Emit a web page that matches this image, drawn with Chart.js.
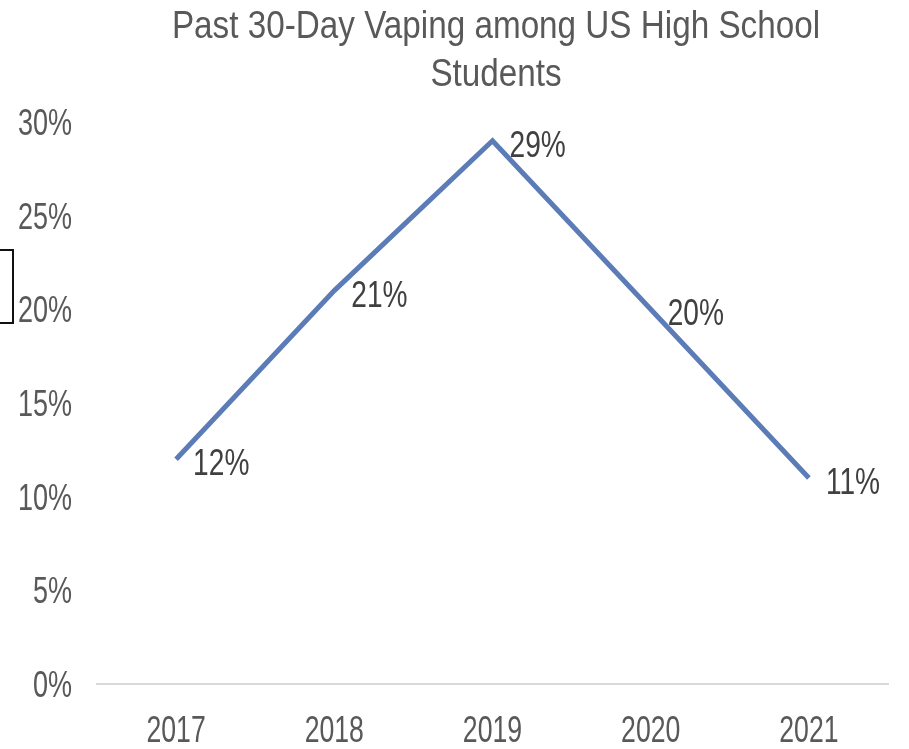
<!DOCTYPE html>
<html>
<head>
<meta charset="utf-8">
<script src="https://cdn.jsdelivr.net/npm/chart.js@4"></script>
<style>
  html, body { margin: 0; padding: 0; background: #fff; }
  #wrap { position: relative; width: 909px; height: 749px; }
  #edgeBox { position: absolute; left: -4px; top: 249px; width: 14px; height: 71px; border: 2px solid #111; }
</style>
</head>
<body>
<div id="wrap">
  <canvas id="chart_Vaping" width="909" height="749"></canvas>
  <div id="edgeBox"></div>
</div>
<script>
var years = ["2017", "2018", "2019", "2020", "2021"];
var vapingPct = [12, 21, 29, 20, 11];
var yTicks = [0, 5, 10, 15, 20, 25, 30];
var titleLines = ["Past 30-Day Vaping among US High School", "Students"];

var fontName = "'Liberation Sans', Arial, sans-serif";

// narrow text: draw normally, squeezed horizontally
function narrowText(ctx, text, x, y, size, sx, align, color) {
  ctx.save();
  ctx.font = size + "px " + fontName;
  ctx.fillStyle = color;
  ctx.textAlign = align;
  ctx.textBaseline = "alphabetic";
  ctx.translate(x, y);
  ctx.scale(sx, 1);
  ctx.fillText(text, 0, 0);
  ctx.restore();
}

// title, axis labels and point labels
var narrowLabels = {
  id: 'narrowLabels',
  afterDraw: function (chart) {
    var ctx = chart.ctx;
    var xs = chart.scales.x;
    var ys = chart.scales.y;
    var area = chart.chartArea;

    narrowText(ctx, titleLines[0], 496, 38, 38, 0.875, "center", "#595959");
    narrowText(ctx, titleLines[1], 496, 86, 38, 0.875, "center", "#595959");

    for (var i = 0; i < yTicks.length; i++) {
      var py = ys.getPixelForValue(yTicks[i]);
      narrowText(ctx, yTicks[i] + "%", 72, py + 13, 37, 0.73, "right", "#595959");
    }
    for (var j = 0; j < years.length; j++) {
      var px = xs.getPixelForValue(j);
      narrowText(ctx, years[j], px, area.bottom + 58, 37, 0.72, "center", "#595959");
    }

    var meta = chart.getDatasetMeta(0);
    for (var k = 0; k < meta.data.length; k++) {
      var pt = meta.data[k];
      narrowText(ctx, vapingPct[k] + "%", pt.x + 17, pt.y + 16, 37, 0.76, "left", "#404040");
    }
  }
};

new Chart(document.getElementById("chart_Vaping"), {
  type: 'line',
  data: {
    labels: years,
    datasets: [{
      label: "Past 30-Day Vaping",
      data: vapingPct,
      borderColor: "#5b7cb7",
      borderWidth: 5,
      pointRadius: 0,
      tension: 0,
      fill: false
    }]
  },
  plugins: [narrowLabels],
  options: {
    responsive: false,
    animation: false,
    layout: { padding: { left: 0, right: 21, top: 122, bottom: 0 } },
    plugins: {
      legend: { display: false },
      tooltip: { enabled: false },
      title: { display: false }
    },
    scales: {
      x: {
        offset: true,
        grid: { display: false, drawTicks: false },
        border: { display: true, color: "#d9d9d9", width: 2 },
        ticks: { display: false },
        afterFit: function (scale) { scale.height = 65; }
      },
      y: {
        min: 0,
        max: 30,
        afterBuildTicks: function (scale) {
          scale.ticks = yTicks.map(function (v) { return { value: v }; });
        },
        grid: { display: false, drawTicks: false },
        border: { display: false },
        ticks: { display: false },
        afterFit: function (scale) { scale.width = 97; }
      }
    }
  }
});
</script>
</body>
</html>
